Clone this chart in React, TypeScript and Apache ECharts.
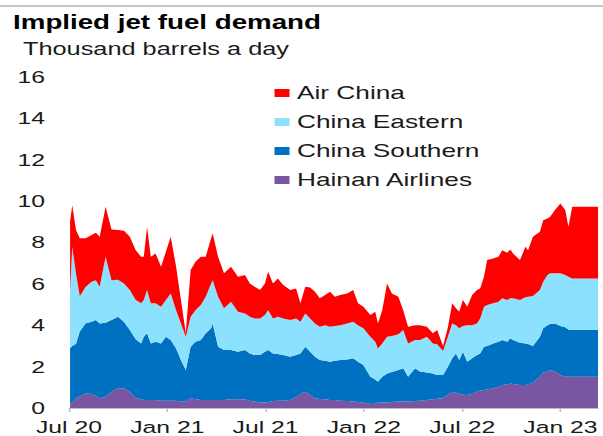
import React, { useEffect, useRef } from "react";
import * as echarts from "echarts";

// ---- data ----
const dates = [
  "2020-07-03", "2020-07-07", "2020-07-14", "2020-07-21", "2020-08-01", "2020-08-12", "2020-08-20", "2020-08-27",
  "2020-09-07", "2020-09-18", "2020-09-30", "2020-10-11", "2020-10-22", "2020-11-02", "2020-11-12", "2020-11-17",
  "2020-11-23", "2020-11-30", "2020-12-09", "2020-12-19", "2020-12-28", "2021-01-06", "2021-01-16", "2021-01-25",
  "2021-02-03", "2021-02-12", "2021-02-21", "2021-03-03", "2021-03-12", "2021-03-22", "2021-03-25", "2021-04-04",
  "2021-04-15", "2021-04-28", "2021-05-11", "2021-05-24", "2021-06-02", "2021-06-11", "2021-06-21", "2021-06-30",
  "2021-07-06", "2021-07-15", "2021-07-24", "2021-08-03", "2021-08-16", "2021-08-27", "2021-09-04", "2021-09-13",
  "2021-09-22", "2021-10-01", "2021-10-10", "2021-10-20", "2021-10-29", "2021-11-07", "2021-11-17", "2021-11-30",
  "2021-12-11", "2021-12-20", "2021-12-30", "2022-01-12", "2022-01-21", "2022-01-26", "2022-02-03", "2022-02-12",
  "2022-02-21", "2022-03-05", "2022-03-14", "2022-03-23", "2022-04-05", "2022-04-14", "2022-04-27", "2022-05-08",
  "2022-05-16", "2022-05-27", "2022-06-05", "2022-06-13", "2022-06-20", "2022-06-26", "2022-07-03", "2022-07-11",
  "2022-07-20", "2022-07-29", "2022-08-04", "2022-08-11", "2022-08-17", "2022-08-28", "2022-09-07", "2022-09-14",
  "2022-09-23", "2022-09-29", "2022-10-04", "2022-10-17", "2022-10-27", "2022-11-01", "2022-11-10", "2022-11-23",
  "2022-11-29", "2022-12-07", "2022-12-12", "2022-12-21", "2022-12-31", "2023-01-09", "2023-01-15", "2023-01-22",
  "2023-02-15", "2023-03-11",
];

const hainanAirlines = [
  0.2, 0.25, 0.47, 0.55, 0.7, 0.68, 0.58, 0.47, 0.55, 0.79, 0.95, 0.95, 0.79, 0.47, 0.42, 0.39,
  0.39, 0.39, 0.39, 0.35, 0.35, 0.35, 0.35, 0.31, 0.31, 0.47, 0.42, 0.39, 0.39, 0.39, 0.39, 0.39,
  0.39, 0.42, 0.42, 0.42, 0.34, 0.31, 0.27, 0.27, 0.28, 0.34, 0.35, 0.35, 0.39, 0.52, 0.68, 0.79,
  0.63, 0.47, 0.43, 0.42, 0.39, 0.39, 0.35, 0.34, 0.32, 0.29, 0.26, 0.19, 0.21, 0.26, 0.26, 0.27,
  0.29, 0.31, 0.32, 0.32, 0.34, 0.35, 0.39, 0.42, 0.45, 0.47, 0.63, 0.79, 0.74, 0.68, 0.64, 0.63,
  0.68, 0.79, 0.84, 0.87, 0.9, 0.95, 1.03, 1.11, 1.14, 1.19, 1.16, 1.11, 1.11, 1.14, 1.22, 1.51,
  1.71, 1.76, 1.84, 1.76, 1.59, 1.51, 1.51, 1.51, 1.51, 1.51,
];

const chinaSouthern = [
  2.7, 2.75, 2.63, 3.15, 3.4, 3.49, 3.67, 3.62, 3.57, 3.46, 3.46, 3.22, 2.98, 2.85, 2.7, 3.06,
  3.22, 2.73, 2.81, 2.77, 3.1, 2.94, 2.53, 2.01, 1.53, 2.49, 2.78, 2.9, 3.22, 3.46, 3.7, 2.57,
  2.41, 2.38, 2.3, 2.38, 2.3, 2.25, 2.29, 2.45, 2.52, 2.3, 2.26, 2.21, 2.09, 2.04, 1.96, 2.17,
  2.09, 2.01, 1.89, 1.87, 1.85, 1.9, 1.97, 2.01, 2.08, 1.95, 1.82, 1.32, 1.17, 1.01, 1.25, 1.4,
  1.45, 1.53, 1.6, 1.19, 1.58, 1.41, 1.32, 1.25, 1.14, 1.13, 1.37, 1.61, 1.9, 1.64, 2.08, 1.61,
  1.72, 1.77, 1.8, 2.09, 2.1, 2.17, 2.17, 2.18, 2.06, 2.18, 2.13, 2.05, 2.01, 1.95, 1.78, 1.94,
  2.14, 2.24, 2.22, 2.33, 2.37, 2.39, 2.29, 2.26, 2.26, 2.26,
];

const chinaEastern = [
  2.7, 4.8, 3.4, 1.7, 1.76, 1.93, 1.93, 1.77, 3.19, 1.93, 1.79, 1.85, 1.93, 1.9, 1.94, 1.77,
  2.09, 1.94, 1.86, 1.78, 1.77, 2.25, 1.85, 1.77, 1.61, 1.45, 1.53, 1.69, 1.77, 2.17, 2.09, 2.42,
  2.02, 2.34, 1.93, 1.77, 1.77, 1.77, 1.77, 1.77, 1.93, 1.69, 1.8, 1.77, 1.77, 1.77, 1.53, 1.61,
  1.61, 1.61, 1.61, 1.71, 1.69, 1.67, 1.68, 1.74, 1.77, 1.76, 1.77, 1.94, 1.82, 1.61, 1.61, 1.78,
  1.74, 1.73, 1.85, 1.61, 1.37, 1.53, 1.74, 1.45, 1.49, 1.15, 1.45, 1.69, 1.36, 1.53, 1.24, 1.76,
  1.6, 1.53, 1.69, 1.94, 1.98, 1.94, 1.94, 2.01, 2.02, 1.93, 2.01, 2.06, 2.23, 2.29, 2.41, 2.25,
  2.25, 2.43, 2.45, 2.42, 2.55, 2.53, 2.54, 2.49, 2.49, 2.49,
];

const airChina = [
  3.4, 2.0, 2.1, 2.8, 2.34, 2.26, 2.29, 2.42, 2.42, 2.45, 2.4, 2.55, 2.58, 2.41, 2.25, 2.09,
  3.06, 2.25, 2.41, 1.93, 2.33, 2.74, 2.1, 1.13, 0.16, 2.26, 2.34, 2.33, 1.93, 2.18, 2.26, 1.93,
  1.69, 1.69, 1.69, 1.86, 1.61, 1.53, 1.37, 1.53, 1.86, 1.69, 1.85, 1.61, 1.45, 1.45, 0.89, 1.29,
  1.5, 1.53, 1.37, 1.46, 1.69, 1.42, 1.46, 1.45, 1.53, 1.06, 1.05, 1.04, 1.45, 1.21, 1.61, 2.57,
  2.06, 1.81, 0.96, 0.81, 0.71, 0.71, 0.48, 0.49, 0.69, 0.25, 0.45, 0.97, 0.82, 0.8, 1.26, 0.9,
  1.46, 1.61, 1.45, 1.44, 2.17, 2.17, 2.17, 2.33, 2.28, 2.36, 2.17, 1.93, 2.44, 2.25, 2.87, 2.82,
  2.98, 2.73, 2.73, 3.06, 3.38, 3.14, 2.42, 3.47, 3.47, 3.47,
];

const seriesNames = ["Air China", "China Eastern", "China Southern", "Hainan Airlines"];
const monthNames = ["Jan", "Feb", "Mar", "Apr", "May", "Jun", "Jul", "Aug", "Sep", "Oct", "Nov", "Dec"];
const axisStart = "2020-07-01";
const axisEnd = "2023-03-11";

// ---- layout ----
const STRETCH = 1.5; // reference is horizontally stretched
const W = 402;
const H = 436;
const FONT = '"Liberation Sans", Arial, Helvetica, sans-serif';
const DAY = 86400000;
const HALF_YEAR = 182.625 * DAY;

const toMs = (s: string) => {
  const [y, m, d] = s.split("-").map(Number);
  return Date.UTC(y, m - 1, d);
};

export default function App() {
  const ref = useRef<HTMLDivElement>(null);

  useEffect(() => {
    if (!ref.current) return;
    const chart = echarts.init(ref.current, undefined, { renderer: "svg", width: W, height: H });

    const xMin = toMs(axisStart);
    const xMax = toMs(axisEnd);

    const mkSeries = (name: string, values: number[], color: string) => ({
      name,
      type: "line",
      stack: "total",
      xAxisIndex: 0,
      data: values.map((v, i) => [toMs(dates[i]), v]),
      showSymbol: false,
      symbol: "none",
      smooth: false,
      lineStyle: { width: 0 },
      areaStyle: { color, opacity: 1 },
      itemStyle: { color },
      emphasis: { disabled: true },
      silent: true,
    });

    chart.setOption({
      animation: false,
      useUTC: true,
      backgroundColor: "#ffffff",
      textStyle: { fontFamily: FONT },
      grid: { left: 46, right: 3.3, top: 77, bottom: 28, containLabel: false, outerBoundsMode: "none" },
      legend: {
        orient: "vertical",
        left: 183,
        top: 84,
        padding: 0,
        itemWidth: 10,
        itemHeight: 8,
        itemGap: 11,
        icon: "rect",
        selectedMode: false,
        data: seriesNames,
        textStyle: { fontSize: 17.5, color: "#1a1a1a", fontFamily: FONT },
      },
      xAxis: [
        {
          // time axis that carries the stacked series
          type: "time",
          min: xMin,
          max: xMax,
          show: false,
        },
        {
          // visible axis: a tick every half year from July 2020
          type: "value",
          position: "bottom",
          min: xMin,
          max: xMax,
          interval: HALF_YEAR,
          splitLine: { show: false },
          axisLine: { onZero: false, lineStyle: { color: "#bdbdbd", width: 1 } },
          axisTick: { length: 4, lineStyle: { color: "#bdbdbd" } },
          axisLabel: {
            fontSize: 16.5,
            lineHeight: 16,
            color: "#1a1a1a",
            margin: 11,
            showMaxLabel: false,
            formatter: (v: number) => {
              if (v >= xMax - DAY) return "";
              const d = new Date(v + 15 * DAY); // round to the nearest month start
              return `${monthNames[d.getUTCMonth()]} ${String(d.getUTCFullYear()).slice(2)}`;
            },
          },
        },
      ],
      yAxis: {
        type: "value",
        min: 0,
        max: 16,
        interval: 2,
        splitLine: { show: false },
        axisLine: { show: false },
        axisTick: { show: false },
        axisLabel: { fontSize: 16.5, color: "#1a1a1a", margin: 16, align: "right" },
      },
      graphic: [
        {
          type: "line",
          shape: { x1: 0, y1: 6, x2: W, y2: 6 },
          style: { stroke: "#c6c6c6", lineWidth: 2 },
          silent: true,
        },
        {
          type: "text",
          x: 8.7,
          y: 22,
          scaleX: 0.88,
          style: {
            text: "Implied jet fuel demand",
            fontSize: 21,
            fontWeight: "bold",
            fontFamily: FONT,
            fill: "#000000",
            verticalAlign: "middle",
            align: "left",
          },
        },
        {
          type: "text",
          x: 15.3,
          y: 48.5,
          scaleX: 0.913,
          style: {
            text: "Thousand barrels a day",
            fontSize: 18.5,
            fontFamily: FONT,
            fill: "#1a1a1a",
            verticalAlign: "middle",
            align: "left",
          },
        },
      ],
      series: [
        mkSeries("Hainan Airlines", hainanAirlines, "#7a55a2"),
        mkSeries("China Southern", chinaSouthern, "#0070c0"),
        mkSeries("China Eastern", chinaEastern, "#8ce1ff"),
        mkSeries("Air China", airChina, "#ff0000"),
      ],
    });

    return () => chart.dispose();
  }, []);

  return (
    <div
      ref={ref}
      style={{
        position: "absolute",
        left: 0,
        top: 0,
        width: W,
        height: H,
        transform: `scaleX(${STRETCH})`,
        transformOrigin: "0 0",
        background: "#ffffff",
      }}
    />
  );
}
